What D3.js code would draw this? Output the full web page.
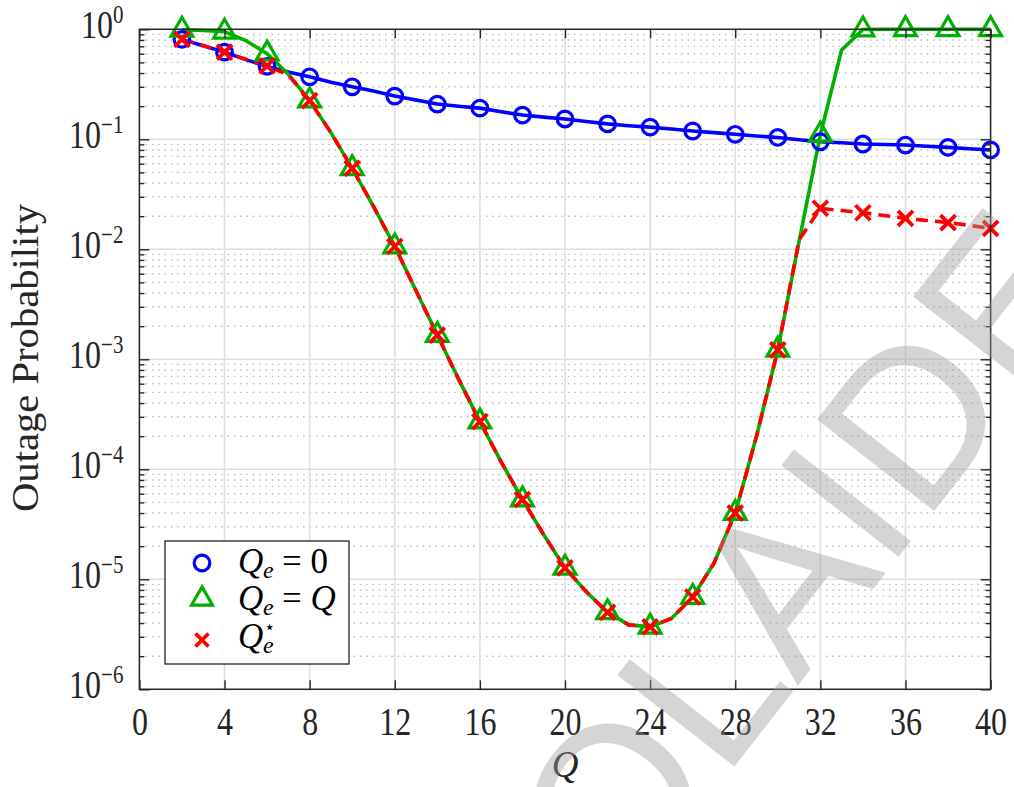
<!DOCTYPE html>
<html>
<head>
<meta charset="utf-8">
<title>Outage probability vs Q</title>
<style>
  body { margin: 0; background: #fff; }
  svg { display: block; }
</style>
</head>
<body>
<script src="https://d3js.org/d3.v7.min.js"></script>
<script>
// ---- data ----
const qVals = [2,3,4,5,6,7,8,9,10,11,12,13,14,15,16,17,18,19,20,21,
               22,23,24,25,26,27,28,29,30,31,32,33,34,35,36,37,38,39,40];
// Q_e = 0
const pZero = [0.81,0.71,0.62,0.53,0.46,0.41,0.37,0.33,0.30,0.275,0.247,0.228,0.209,0.200,0.192,0.178,0.166,0.159,0.153,0.145,
               0.138,0.133,0.129,0.124,0.119,0.115,0.111,0.107,0.104,0.099,0.095,0.093,0.0906,0.0896,0.0887,0.0865,0.0844,0.082,0.080];
// Q_e = Q
const pFull = [0.99,0.975,0.95,0.79,0.60,0.39,0.225,0.115,0.0545,0.0245,0.0106,0.0042,0.00166,0.00066,0.000271,0.000117,0.000053,0.0000254,0.0000127,0.0000077,
               0.0000050,0.00000385,0.0000037,0.0000044,0.0000069,0.000014,0.000040,0.00020,0.00122,0.0118,0.11,0.65,0.995,1,1,1,1,1,1];
// optimal Q_e*
const pOpt = [0.81,0.71,0.62,0.535,0.465,0.385,0.225,0.115,0.0545,0.0245,0.0106,0.0042,0.00166,0.00066,0.000271,0.000117,0.000053,0.0000254,0.0000127,0.0000077,
              0.0000050,0.00000385,0.0000037,0.0000044,0.0000069,0.000014,0.000040,0.00020,0.00122,0.0122,0.0236,0.0225,0.0215,0.0203,0.0191,0.0183,0.0175,0.0165,0.0155];
const xTicks = [0,4,8,12,16,20,24,28,32,36,40];
const yTicks = [1e-6,1e-5,1e-4,1e-3,1e-2,1e-1,1];

const w = 1014, h = 787;
const margin = {top: 29.3, right: 23.4, bottom: 97.7, left: 139.4};
const inner_w = w - margin.left - margin.right;
const inner_h = h - margin.top - margin.bottom;

const axisColor = '#262626';
const serif = "'Liberation Serif', 'DejaVu Serif', serif";
const blue = '#0000ff', green = '#00b000', red = '#ff0000';
const stretch = 1.22; // tick labels in the figure are taller than wide

const svg = d3.select('body').append('svg').attr('width', w).attr('height', h);
const g = svg.append('g').attr('transform', `translate(${margin.left},${margin.top})`);

const x = d3.scaleLinear().domain([0, 40]).range([0, inner_w]);
const y = d3.scaleLog().domain([1e-6, 1]).range([inner_h, 0]);

// minor log values
const minor = [];
for (let e = -6; e < 0; e++) for (let m = 2; m <= 9; m++) minor.push(m * Math.pow(10, e));

// grid
const grid = g.append('g');
grid.selectAll('.minor').data(minor).enter().append('line')
  .attr('x1', 0).attr('x2', inner_w)
  .attr('y1', d => y(d)).attr('y2', d => y(d))
  .attr('stroke', '#b8b8b8').attr('stroke-width', 1.4).attr('stroke-dasharray', '1.4,4.9');
grid.selectAll('.ymaj').data(yTicks).enter().append('line')
  .attr('x1', 0).attr('x2', inner_w)
  .attr('y1', d => y(d)).attr('y2', d => y(d))
  .attr('stroke', '#dfdfdf').attr('stroke-width', 1.6);
grid.selectAll('.xmaj').data(xTicks).enter().append('line')
  .attr('y1', 0).attr('y2', inner_h)
  .attr('x1', d => x(d)).attr('x2', d => x(d))
  .attr('stroke', '#dfdfdf').attr('stroke-width', 1.6);

// series
const series = [
  {vals: pZero, color: blue, dash: null, marker: 'circle'},
  {vals: pFull, color: green, dash: null, marker: 'triangle'},
  {vals: pOpt, color: red, dash: '12,7', marker: 'cross'}
];

const line = d3.line().x(d => x(d[0])).y(d => y(d[1]));

const crossSymbol = {
  draw(ctx, size) {
    const r = Math.sqrt(size) / 2;
    ctx.moveTo(-r, -r); ctx.lineTo(r, r);
    ctx.moveTo(r, -r); ctx.lineTo(-r, r);
  }
};
const markerPath = {
  circle: d3.symbol(d3.symbolCircle, Math.PI * 7.8 * 7.8),
  triangle: d3.symbol(d3.symbolTriangle, 205),
  cross: d3.symbol(crossSymbol, 15 * 15)
};

series.forEach(s => {
  const pts = qVals.map((q, i) => [q, s.vals[i]]);
  g.append('path').datum(pts)
    .attr('d', line)
    .attr('fill', 'none')
    .attr('stroke', s.color)
    .attr('stroke-width', 3.6)
    .attr('stroke-dasharray', s.dash);
});
series.forEach(s => {
  const pts = qVals.map((q, i) => [q, s.vals[i]]).filter(d => d[0] % 2 === 0);
  g.selectAll(null).data(pts).enter().append('path')
    .attr('transform', d => `translate(${x(d[0])},${y(d[1])})`)
    .attr('d', markerPath[s.marker])
    .attr('fill', 'none')
    .attr('stroke', s.color)
    .attr('stroke-width', s.marker === 'cross' ? 3.8 : 3.2);
});

// axes (ticks point inward, box on)
function styleAxis(sel) {
  sel.attr('color', axisColor).attr('font-family', serif).attr('font-size', 32);
  sel.select('.domain').remove();
}
const xb = g.append('g').attr('transform', `translate(0,${inner_h})`)
  .call(d3.axisBottom(x).tickValues(xTicks).tickSizeInner(-9).tickSizeOuter(0).tickPadding(15))
  .call(styleAxis);
xb.selectAll('line').attr('stroke-width', 1.4);
xb.selectAll('text').attr('fill', axisColor).attr('transform', `scale(1,${stretch})`);

g.append('g')
  .call(d3.axisTop(x).tickValues(xTicks).tickSizeInner(-9).tickSizeOuter(0).tickFormat(''))
  .call(styleAxis).selectAll('line').attr('stroke-width', 1.4);

const yl = g.append('g')
  .call(d3.axisLeft(y).tickValues(yTicks).tickSizeInner(-10).tickSizeOuter(0).tickPadding(16))
  .call(styleAxis);
yl.selectAll('line').attr('stroke-width', 1.4);
yl.selectAll('text').attr('dy', '0.2em').attr('fill', axisColor)
  .attr('transform', `scale(1,${stretch})`)
  .text(null)
  .each(function(d) {
    const t = d3.select(this);
    const ex = Math.round(Math.log10(d));
    t.append('tspan').text('10');
    t.append('tspan').attr('font-size', 21).attr('dy', -12)
      .text(ex < 0 ? '\u2212' + (-ex) : String(ex));
  });
g.append('g').call(d3.axisLeft(y).tickValues(minor).tickSizeInner(-5).tickSizeOuter(0).tickFormat(''))
  .call(styleAxis).selectAll('line').attr('stroke-width', 1.4);

g.append('g').attr('transform', `translate(${inner_w},0)`)
  .call(d3.axisRight(y).tickValues(yTicks).tickSizeInner(-10).tickSizeOuter(0).tickFormat(''))
  .call(styleAxis).selectAll('line').attr('stroke-width', 1.4);
g.append('g').attr('transform', `translate(${inner_w},0)`)
  .call(d3.axisRight(y).tickValues(minor).tickSizeInner(-5).tickSizeOuter(0).tickFormat(''))
  .call(styleAxis).selectAll('line').attr('stroke-width', 1.4);

g.append('rect').attr('width', inner_w).attr('height', inner_h)
  .attr('fill', 'none').attr('stroke', axisColor).attr('stroke-width', 1.5);

// axis labels
svg.append('text')
  .attr('transform', 'translate(38,358) rotate(-90)')
  .attr('text-anchor', 'middle')
  .attr('font-family', serif).attr('font-size', 38)
  .attr('fill', axisColor)
  .attr('textLength', 308).attr('lengthAdjust', 'spacingAndGlyphs')
  .text('Outage Probability');

svg.append('text')
  .attr('x', margin.left + x(20)).attr('y', 777)
  .attr('text-anchor', 'middle')
  .attr('font-family', serif).attr('font-size', 37).attr('font-style', 'italic')
  .attr('fill', axisColor)
  .text('Q');

// legend
const leg = svg.append('g').attr('transform', 'translate(165,541)');
leg.append('rect').attr('width', 184).attr('height', 123)
  .attr('fill', '#fff').attr('stroke', axisColor).attr('stroke-width', 1.3);

const legRows = [
  {marker: 'circle', color: blue, cy: 22, base: 32, rhs: '= 0', star: false},
  {marker: 'triangle', color: green, cy: 58, base: 69, rhs: '= Q', star: false},
  {marker: 'cross', color: red, cy: 99, base: 107, rhs: '', star: true}
];
const legMarker = {
  circle: d3.symbol(d3.symbolCircle, Math.PI * 7.8 * 7.8),
  triangle: d3.symbol(d3.symbolTriangle, 190),
  cross: d3.symbol(crossSymbol, 13 * 13)
};
legRows.forEach(r => {
  leg.append('path')
    .attr('transform', `translate(37,${r.cy})`)
    .attr('d', legMarker[r.marker])
    .attr('fill', 'none').attr('stroke', r.color)
    .attr('stroke-width', r.marker === 'cross' ? 3.8 : 3.2);
  const t = leg.append('g').attr('font-family', serif).attr('fill', '#000');
  t.append('text').attr('x', 73).attr('y', r.base)
    .attr('font-size', 35).attr('font-style', 'italic').text('Q');
  t.append('text').attr('x', 98).attr('y', r.base + 5)
    .attr('font-size', 24).attr('font-style', 'italic').text('e');
  if (r.star) {
    t.append('text').attr('x', 99).attr('y', r.base - 15)
      .attr('font-size', 18).text('\u22C6');
  }
  if (r.rhs) {
    const rt = t.append('text').attr('x', 117).attr('y', r.base).attr('font-size', 35);
    rt.append('tspan').text('= ');
    if (r.rhs === '= Q') rt.append('tspan').attr('font-style', 'italic').text('Q');
    else rt.append('tspan').text('0');
  }
});

// watermark
svg.append('g')
  .attr('transform', 'translate(612,800) rotate(-52)')
  .append('text')
  .attr('x', -84).attr('y', 76)
  .attr('font-family', "'Liberation Sans', Arial, sans-serif")
  .attr('font-size', 216)
  .attr('fill', '#9a9a9a').attr('fill-opacity', 0.42)
  .text('OLAIDE');
</script>
</body>
</html>
